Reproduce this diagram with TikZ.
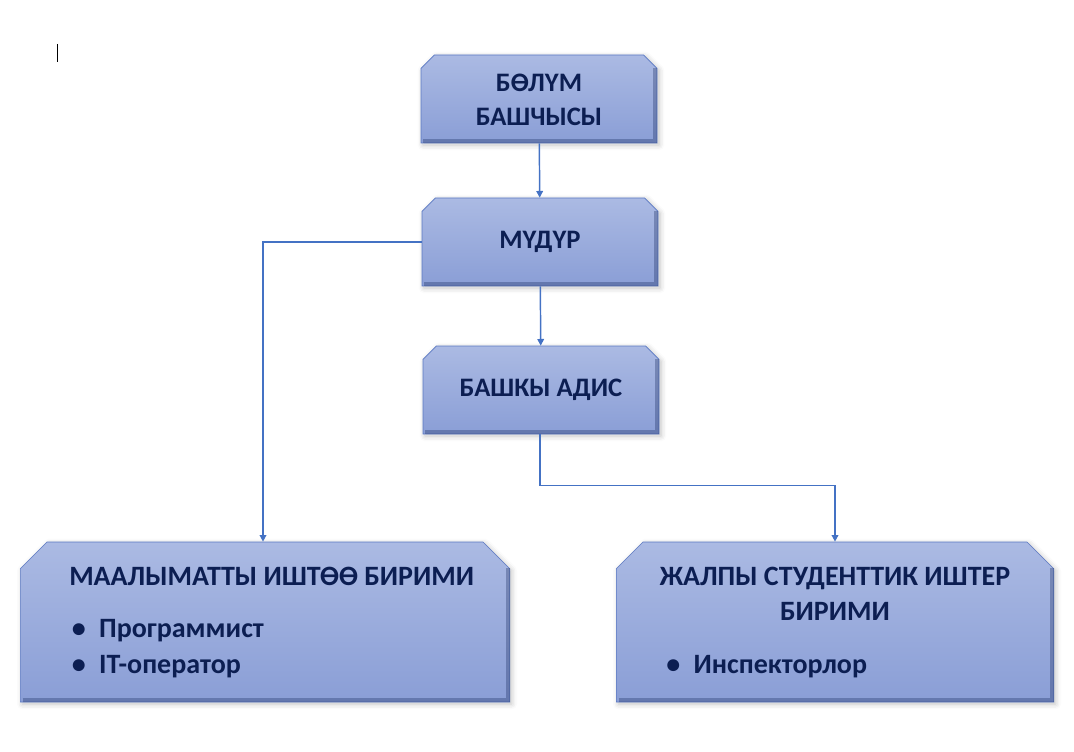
\documentclass[tikz,border=0pt]{standalone}
\usepackage{fontspec}
\setmainfont{Carlito}
\usetikzlibrary{shapes.misc,arrows.meta,shadows.blur,calc}
\definecolor{boxtop}{HTML}{ABBAE3}
\definecolor{boxbot}{HTML}{8A9ED6}
\definecolor{boxline}{HTML}{5A78C2}
\definecolor{navy}{HTML}{0C1E52}
\definecolor{link}{HTML}{4472C4}
\begin{document}
\begin{tikzpicture}[x=0.75pt,y=-0.75pt,
    box/.style={chamfered rectangle, chamfered rectangle corners={north west,north east},
        chamfered rectangle xsep=#1, chamfered rectangle ysep=#1, inner sep=0pt,
        top color=boxtop, bottom color=boxbot, draw=boxline, line width=0.5pt,
        text=navy, font=\bfseries\fontsize{20}{25.5}\selectfont, align=center,
        blur shadow={shadow xshift=1.5pt, shadow yshift=-1.5pt, shadow blur radius=4pt, shadow opacity=25}},
    box/.default=5pt,
    bigbox/.style={box=10pt, font=\bfseries\fontsize{21}{26.5}\selectfont},
    bevel/.style={line width=3pt, navy, opacity=.3},
    conn/.style={link, line width=1.1pt, -{Triangle[length=5pt,width=5pt]}}]
\useasboundingbox (0,0) rectangle (1074,752);
% cursor
\draw[line width=0.75pt] (57,44) -- (57,62);
% boxes
\node[box, minimum width=177pt, minimum height=66pt] (head) at (539,99)
    {\begin{tabular}{@{}c@{}}\rule{0pt}{22pt}БӨЛҮМ\\БАШЧЫСЫ\end{tabular}};
\node[box, minimum width=177pt, minimum height=66pt] (mudur) at (540,242) {МҮДҮР};
\node[box, minimum width=177pt, minimum height=66pt] (adis) at (541,390) {БАШКЫ АДИС};
\node[bigbox, minimum width=367pt, minimum height=120pt] (info) at (265,622)
    {\begin{tabular}{@{\hspace{10pt}}l@{}}МААЛЫМАТТЫ ИШТӨӨ БИРИМИ\\[13pt]
     \hspace{2pt}\textbullet\hspace{10pt}Программист\\
     \hspace{2pt}\textbullet\hspace{10pt}IT-оператор\end{tabular}};
\node[bigbox, minimum width=328pt, minimum height=120pt] (stud) at (835,622)
    {\begin{tabular}{@{}c@{}}ЖАЛПЫ СТУДЕНТТИК ИШТЕР\\БИРИМИ\\[13pt]
     \multicolumn{1}{@{}l@{}}{\hspace{5pt}\textbullet\hspace{10pt}Инспекторлор}\end{tabular}};
% bevel on right and bottom
\foreach \b/\c in {head/10pt,mudur/10pt,adis/10pt,info/20pt,stud/20pt}
    \draw[bevel] ([xshift=2pt,yshift=1.5pt]\b.south west) -- ([xshift=-1.5pt,yshift=1.5pt]\b.south east)
        -- ([xshift=-1.5pt,yshift=-\c]\b.south east |- \b.north);
% connectors
\draw[conn] (head) -- (mudur);
\draw[conn] (mudur) -- (adis);
\draw[conn] (mudur.west) -| ([xshift=-1.5pt]info.north);
\draw[conn] ([xshift=-0.75pt]adis.south) -- ++(0,51) -| (stud.north);
\end{tikzpicture}
\end{document}
